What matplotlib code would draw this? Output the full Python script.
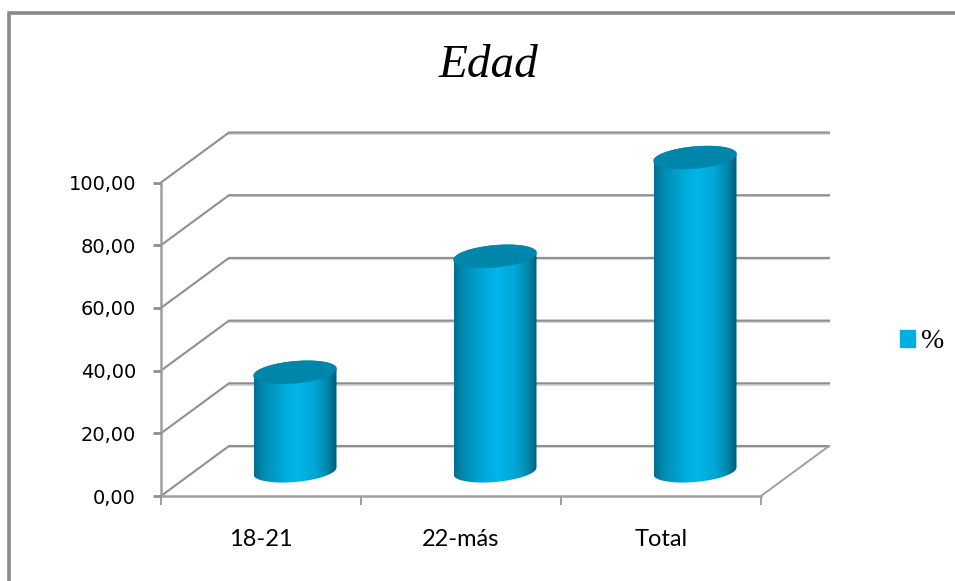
import numpy as np
import matplotlib
matplotlib.use("Agg")
import matplotlib.pyplot as plt
from matplotlib.colors import LinearSegmentedColormap
from matplotlib.patches import Patch, PathPatch
from matplotlib.path import Path

categories = ["18-21", "22-más", "Total"]
values = [31.5, 68.5, 100.0]
y_ticks = [0, 20, 40, 60, 80, 100]
y_labels = ["0,00", "20,00", "40,00", "60,00", "80,00", "100,00"]
title = "Edad"
series_name = "%"

W, H = 955, 581
fig = plt.figure(figsize=(W / 100, H / 100), dpi=100, facecolor="white")
ax = fig.add_axes([161 / W, 1 - 496 / H, 600 / W, 313.5 / H])
ax.patch.set_visible(False)

# 3-D depth of the chart box, in data units
DX = 68 / 200
DY = 50 / 3.135
GRID = "#8f8f8f"
SHADOW = "#d6d6d6"

# picture border
fig.add_artist(plt.Line2D([9 / W, 9 / W, 1], [0, 1 - 13 / H, 1 - 13 / H],
                          color="#8a8a8a", lw=2.6, solid_joinstyle="miter"))

# wall gridlines
for v in y_ticks:
    xs = [-0.5, -0.5 + DX, 2.5 + DX]
    ys = [v, v + DY, v + DY]
    ax.plot(xs[1:], [y - 0.4 for y in ys[1:]], color=SHADOW, lw=1.4, clip_on=False, zorder=1)
    ax.plot(xs, ys, color=GRID, lw=1.5, clip_on=False, zorder=1.1)
ax.plot([2.5, 2.5 + DX], [0, DY], color="#a0a0a0", lw=1.4, clip_on=False, zorder=1.1)

# cylinders
BAR_W = 83 / 200
RY = 11 / 3.135
TILT = 3.5 / 3.135
grad = LinearSegmentedColormap.from_list(
    "cyl",
    [(0.0, "#006f8e"), (0.12, "#008cb3"), (0.35, "#00a8d9"), (0.52, "#00b6ea"),
     (0.72, "#00a8d8"), (0.88, "#0088ad"), (1.0, "#005a75")])
g = np.linspace(0, 1, 256).reshape(1, -1)
t = np.linspace(0, 2 * np.pi, 121)


def ring(cx, cy):
    return (cx + BAR_W / 2 * np.cos(t), cy + RY * np.sin(t) + TILT * np.cos(t))


x_pos = np.arange(len(categories))
bars = ax.bar(x_pos + DX / 2, values, width=BAR_W, bottom=DY / 2,
              color="#00aee3", clip_on=False, zorder=2, label=series_name)
for xc, v, rect in zip(x_pos + DX / 2, values, bars):
    base_y = DY / 2
    top_y = base_y + v
    bx, by = ring(xc, base_y)
    tx, ty = ring(xc, top_y)
    lower = t >= np.pi
    low = np.column_stack([bx[lower], by[lower]])
    upper = t <= np.pi
    up = np.column_stack([tx[upper], ty[upper]])
    verts = np.vstack([low, up, low[:1]])
    body = PathPatch(Path(verts), transform=ax.transData, fc="none", ec="none")
    ax.add_patch(body)
    body.set_clip_on(False)
    im = ax.imshow(g, cmap=grad, aspect="auto", zorder=3,
                   extent=(xc - BAR_W / 2, xc + BAR_W / 2, base_y - 2 * RY, top_y + 2 * RY))
    im.set_clip_path(body)
    im.set_clip_box(fig.bbox)
    rect.set_visible(False)
    ax.fill(tx, ty, color="#0085ab", ec="#0085ab", lw=0.3, clip_on=False, zorder=4)
ax.set_xlim(-0.5, 2.5)
ax.set_ylim(0, 100)

# axes
for s in ("top", "right"):
    ax.spines[s].set_visible(False)
for s in ("left", "bottom"):
    ax.spines[s].set_color("#a0a0a0")
    ax.spines[s].set_linewidth(1.8)
    ax.spines[s].set_zorder(1.5)
ax.set_yticks(y_ticks)
ax.set_yticklabels(y_labels, family="DejaVu Sans", fontsize=14, color="black")
ax.tick_params(axis="y", length=6, width=2, color="#8f8f8f", pad=12)
ax.set_xticks([-0.5, 0.5, 1.5, 2.5])
ax.set_xticklabels([])
ax.tick_params(axis="x", which="major", length=6.5, width=1.4, color="#a0a0a0")
ax.set_xticks(x_pos, minor=True)
ax.set_xticklabels(categories, minor=True, family="Lato", fontsize=17, color="black")
ax.tick_params(axis="x", which="minor", length=0, pad=24)

# title
fig.text(488 / W, 1 - 66 / H, title, family="Liberation Serif", style="italic",
         fontsize=34, ha="center", va="center", color="black")

# legend
handle = Patch(color="#00aee3", label=series_name)
fig.legend(handles=[handle], loc="center left", bbox_to_anchor=(896 / W, 1 - 342 / H),
           frameon=False, prop={"family": "Liberation Serif", "size": 20},
           handlelength=0.54, handleheight=0.54, handletextpad=0.22,
           borderpad=0.15, borderaxespad=0)

fig.savefig("out.png", dpi=100, facecolor="white")
